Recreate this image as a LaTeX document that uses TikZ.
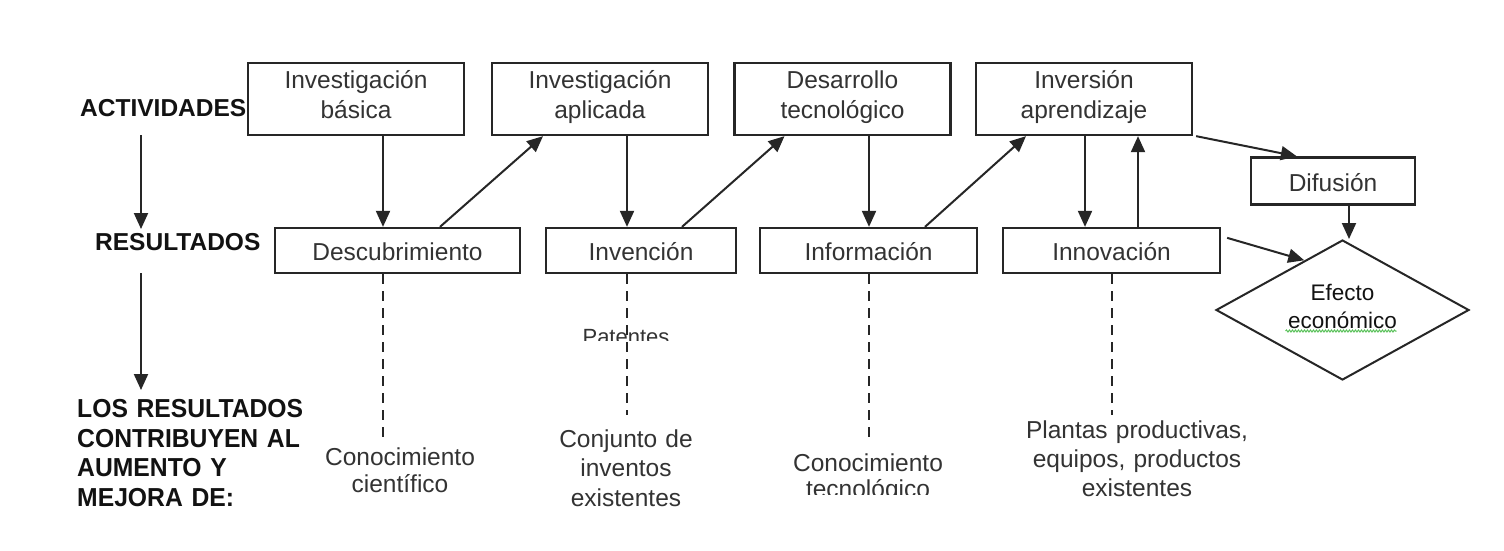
\documentclass[tikz,border=0pt]{standalone}
\usepackage{fontspec}
\setmainfont{Liberation Sans}
\newfontfamily\losfont{Liberation Sans}[FakeStretch=0.95]
\usetikzlibrary{arrows.meta,shapes.geometric,calc,decorations.pathmorphing}
\definecolor{txt}{HTML}{333333}
\definecolor{ln}{HTML}{262626}
\definecolor{lbl}{HTML}{121212}
\definecolor{spell}{HTML}{5CC25C}
\begin{document}
\begin{tikzpicture}[x=1pt,y=-1pt,
  boxnode/.style={draw=ln,line width=2.3pt,rectangle,text=txt},
  topbox/.style={boxnode,minimum width=216pt,minimum height=72pt,inner xsep=8pt,inner ysep=0pt,
    text width=200pt,align=center,text height=17.5pt,text depth=39.5pt,
    font=\fontsize{24.5}{30.5}\selectfont},
  resbox/.style={boxnode,minimum height=45pt,inner sep=0pt,text height=20pt,text depth=0pt,
    font=\fontsize{24.5}{30}\selectfont},
  lbltext/.style={text=lbl,inner sep=0pt,text height=17.5pt,text depth=0pt,
    font=\fontsize{24.5}{30}\selectfont\bfseries},
  btext/.style={text=txt,inner sep=0pt,align=center,text width=280pt,anchor=base},
  arr/.style={draw=ln,line width=2pt,-{Triangle[length=16pt,width=14pt]}},
  dashln/.style={draw=ln,line width=2.6pt,dash pattern=on 10pt off 7pt},
]
\useasboundingbox (0,0) rectangle (1504,550);
\fill[white] (0,0) rectangle (1504,550);

% top boxes
\node[topbox] (b1) at (356,99) {Investigación\\básica};
\node[topbox] (b2) at (600,99) {Investigación\\aplicada};
\node[topbox] (b3) at (842.5,99) {Desarrollo\\tecnológico};
\node[topbox] (b4) at (1084,99) {Inversión\\aprendizaje};

% result boxes
\node[resbox,minimum width=245pt] (d1) at (397.5,250.5) {Descubrimiento};
\node[resbox,minimum width=190pt] (inv) at (641,250.5) {Invención};
\node[resbox,minimum width=217pt] (inf) at (868.5,250.5) {Información};
\node[resbox,minimum width=217pt] (inn) at (1111.5,250.5) {Innovación};
\node[resbox,minimum width=164pt,minimum height=47pt] (dif) at (1333,181) {Difusión};

% diamond
\node[diamond,aspect=1.8,draw=ln,line width=2pt,minimum width=253pt,minimum height=140pt,inner sep=0pt,
  text=lbl,align=center,text width=115pt,text height=16.1pt,text depth=36pt,
  font=\fontsize{22.5}{28}\selectfont] (ef) at (1342.5,310) {Efecto\\económico};
\draw[spell,line width=1pt,decorate,decoration={snake,amplitude=1pt,segment length=3pt}]
  ($(ef.center)+(-57,21)$) -- ($(ef.center)+(54,21)$);

% left labels
\node[lbltext,anchor=west] (act) at (80,108) {ACTIVIDADES};
\node[lbltext,anchor=west] (res) at (95,242) {RESULTADOS};
\node[text=lbl,inner sep=0pt,align=left,text width=240pt,anchor=base west,
  font=\losfont\bfseries\fontsize{26}{29.7}\selectfont] (los) at (77,417.3)
  {LOS RESULTADOS\\CONTRIBUYEN AL\\AUMENTO Y\\MEJORA DE:};

\coordinate (a1s) at (141,135);
\coordinate (a1e) at (141,229);
\coordinate (a2s) at (141,273);
\coordinate (a2e) at (141,390);
\draw[arr] (a1s) -- (a1e);
\draw[arr] (a2s) -- (a2e);

% arrows between boxes
\draw[arr] ([xshift=27pt]b1.south) -- ([xshift=-14.5pt]d1.north);
\draw[arr] ([xshift=42.5pt]d1.north) -- ([xshift=-57pt]b2.south);
\draw[arr] ([xshift=27pt]b2.south) -- ([xshift=-14pt]inv.north);
\draw[arr] ([xshift=41pt]inv.north) -- ([xshift=-58pt]b3.south);
\draw[arr] ([xshift=26.5pt]b3.south) -- ([xshift=0.5pt]inf.north);
\draw[arr] ([xshift=56.5pt]inf.north) -- ([xshift=-58pt]b4.south);
\draw[arr] ([xshift=1pt]b4.south) -- ([xshift=-26.5pt]inn.north);
\draw[arr] ([xshift=26.5pt]inn.north) -- ([xshift=54pt]b4.south);
\draw[arr] ([xshift=3pt]b4.south east) -- ([xshift=47pt]dif.north west);
\draw[arr] ([xshift=16pt]dif.south) -- ([xshift=16pt]dif.south |- ef.north);
\draw[arr] ([xshift=6pt,yshift=-11pt]inn.north east) -- ($(ef.west)!0.7!(ef.north)$);

% bottom texts
\node[btext,text width=120pt,font=\fontsize{22}{26}\selectfont] (pat) at (626,344) {Patentes};
\fill[white] (575,341) rectangle (680,352);
\node[btext,font=\fontsize{24.5}{27}\selectfont] (k1) at (400,465) {Conocimiento\\científico};
\node[btext,font=\fontsize{24.5}{29.5}\selectfont] (k2) at (626,447) {Conjunto de\\inventos\\existentes};
\node[btext,font=\fontsize{24.5}{26}\selectfont] (k3) at (868,471.5) {Conocimiento\\tecnológico};
\fill[white] (780,495) rectangle (960,512);
\node[btext,font=\fontsize{24.5}{29}\selectfont] (k4) at (1137,438) {Plantas productivas,\\equipos, productos\\existentes};

% dashed lines
\coordinate (e1) at (383,437);
\coordinate (e2) at (627,415);
\coordinate (e3) at (869,437);
\coordinate (e4) at (1112,415);
\draw[dashln] (d1.south -| e1) -- (e1);
\draw[dashln] (inv.south -| e2) -- (e2);
\draw[dashln] (inf.south -| e3) -- (e3);
\draw[dashln] (inn.south -| e4) -- (e4);
\end{tikzpicture}
\end{document}
